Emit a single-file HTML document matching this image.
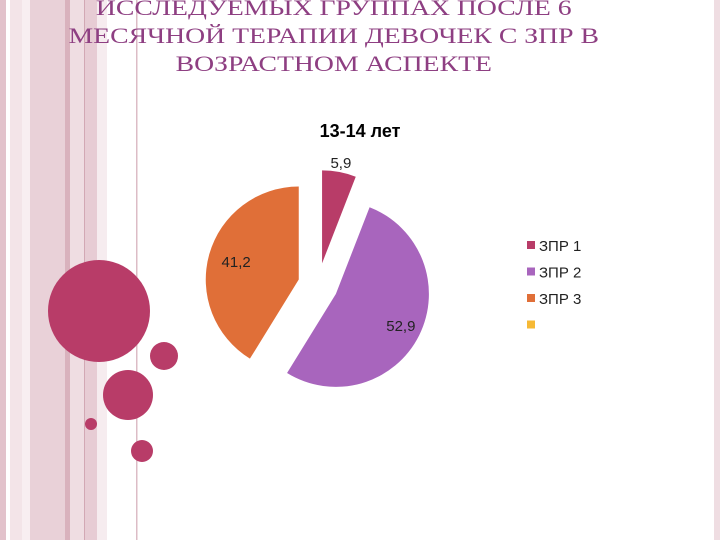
<!DOCTYPE html>
<html><head><meta charset="utf-8"><style>
body{margin:0;width:720px;height:540px;overflow:hidden;background:#fff;font-family:"Liberation Sans",sans-serif}
#wrap{position:relative;width:720px;height:540px}
.t{position:absolute;left:0;width:666px;text-align:center;font-family:"Liberation Serif",serif;font-size:22px;color:#8e3f82;line-height:28px;transform:scaleX(1.26);transform-origin:330px 0}
</style></head><body>
<div id="wrap">
<svg width="720" height="540" style="position:absolute;left:0;top:0">
<rect x="0" y="0" width="6" height="540" fill="#e2c2cb"/>
<rect x="10" y="0" width="12" height="540" fill="#f3e4e8"/>
<rect x="22" y="0" width="8" height="540" fill="#f8eef1"/>
<rect x="30" y="0" width="35" height="540" fill="#e9d1d8"/>
<rect x="65" y="0" width="5" height="540" fill="#d9b2bd"/>
<rect x="70" y="0" width="14" height="540" fill="#efdde2"/>
<rect x="84" y="0" width="1" height="540" fill="#d2a8b4"/>
<rect x="85" y="0" width="12" height="540" fill="#e7ccd4"/>
<rect x="97" y="0" width="10" height="540" fill="#f6ecef"/>
<rect x="136" y="0" width="1.5" height="540" fill="#dcbcc6"/>
<rect x="714" y="0" width="6" height="540" fill="#efdde2"/>
<g fill="#b83c68">
<circle cx="99" cy="311" r="51"/><circle cx="164" cy="356" r="14"/>
<circle cx="128" cy="395" r="25"/><circle cx="91" cy="424" r="6"/><circle cx="142" cy="451" r="11"/>
</g>
</svg>
<div class="t" style="top:-6px">ИССЛЕДУЕМЫХ ГРУППАХ ПОСЛЕ 6<br>МЕСЯЧНОЙ ТЕРАПИИ ДЕВОЧЕК С ЗПР В<br>ВОЗРАСТНОМ АСПЕКТЕ</div>
<svg id="chart" width="720" height="540" style="position:absolute;left:0;top:0">
<text x="360" y="137" text-anchor="middle" font-size="18" font-weight="bold" fill="#000">13-14 лет</text>
</svg>
</div>
<script>
const categories=["ЗПР 1","ЗПР 2","ЗПР 3",""];
const values=[5.9,52.9,41.2,0];
const labels=["5,9","52,9","41,2",""];
const colors=["#b83c68","#a865bd","#e06f38","#f6b935"];
const explode=[22,20,20,0];
const labelRadius=[1.1,0.78,0.7,0];
const svg=document.getElementById('chart');
const NS='http://www.w3.org/2000/svg';
const cx=318,cy=285,r=93;
const total=values.reduce((a,b)=>a+b,0);
let a0=0;
function pt(x,y,ang,rad){return [x+rad*Math.sin(ang),y-rad*Math.cos(ang)];}
values.forEach((v,i)=>{
 if(v<=0)return;
 const a1=a0+v/total*2*Math.PI, mid=(a0+a1)/2;
 const ox=cx+explode[i]*Math.sin(mid), oy=cy-explode[i]*Math.cos(mid);
 const p0=pt(ox,oy,a0,r), p1=pt(ox,oy,a1,r);
 const path=document.createElementNS(NS,'path');
 path.setAttribute('d',`M${ox},${oy}L${p0[0]},${p0[1]}A${r},${r} 0 ${a1-a0>Math.PI?1:0} 1 ${p1[0]},${p1[1]}Z`);
 path.setAttribute('fill',colors[i]);
 
 
 svg.appendChild(path);
 const lp=pt(ox,oy,mid,r*labelRadius[i]);
 const t=document.createElementNS(NS,'text');
 t.setAttribute('x',lp[0]);
 t.setAttribute('y',lp[1]+5);
 t.setAttribute('text-anchor','middle');
 t.setAttribute('font-size','15');
 t.setAttribute('fill','#222');
 t.textContent=labels[i];
 
 
 svg.appendChild(t);
 a0=a1;
});
categories.forEach((c,i)=>{
 const y=246+i*26.5;
 const s=document.createElementNS(NS,'rect');
 s.setAttribute('x',527);s.setAttribute('y',y-5);s.setAttribute('width',8);s.setAttribute('height',8);
 s.setAttribute('fill',colors[i]);
 
 
 svg.appendChild(s);
 const t=document.createElementNS(NS,'text');
 t.setAttribute('x',539);t.setAttribute('y',y+5);t.setAttribute('font-size','15');t.setAttribute('fill','#222');
 t.textContent=c;
 
 
 svg.appendChild(t);
});
</script>
</body></html>
